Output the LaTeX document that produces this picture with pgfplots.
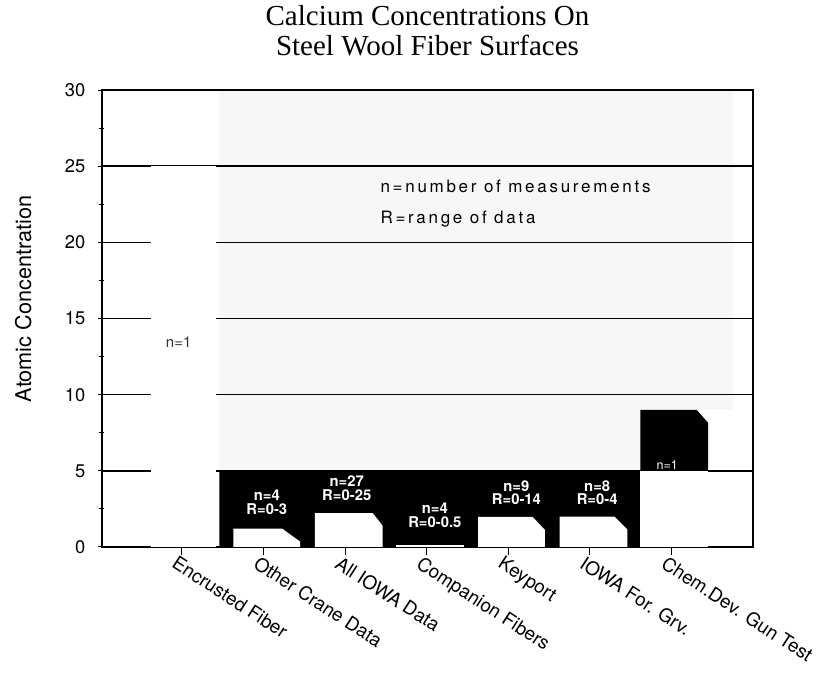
\documentclass[border=0pt]{standalone}
\usepackage{fontspec}
\setmainfont{TeX Gyre Heros}
\setsansfont{TeX Gyre Heros}
\newfontfamily\titlefont{Liberation Serif}
\newfontfamily\spacedfont[LetterSpace=16]{TeX Gyre Heros}
\usepackage{pgfplots}
\pgfplotsset{compat=1.18}

\begin{document}
\begin{tikzpicture}
\begin{axis}[
 name=ax, set layers,
 scale only axis, width=390.6pt, height=274.2pt,
 xmin=-0.98, xmax=7, ymin=0, ymax=30,
 xtick={0,...,6},
 xticklabels={Encrusted Fiber,Other Crane Data,All IOWA Data,Companion Fibers,Keyport,IOWA For. Grv.,Chem.Dev. Gun Test},
 xtick pos=left, ytick pos=left,
 xtick align=outside, ytick align=center,
 major tick length=5pt, minor tick length=3pt,
 ytick={0,5,...,30}, minor ytick={2.5,7.5,...,27.5},
 ymajorgrids, grid style={black,line width=0.9pt},
 axis line style={line width=1pt},
 tick style={black,line width=0.6pt},
 /pgf/number format/assume math mode=true,
 yticklabel style={font=\fontsize{11}{12}\selectfont,xshift=-4pt},
 xticklabel style={font=\fontsize{11.3}{12}\selectfont,rotate=-33,anchor=north west,inner sep=1pt,xshift=-3pt},
 ylabel={Atomic Concentration},
 ylabel style={at={(axis description cs:-0.121,0.543)},anchor=center,font=\fontsize{13}{14}\selectfont},
 title={Calcium Concentrations On\\Steel Wool Fiber Surfaces},
 title style={at={(0.5,1)},anchor=south,yshift=14pt,inner sep=0pt,align=center,font=\titlefont\fontsize{17.4}{18}\selectfont},
]

% faint stipple behind the plot
\begin{pgfonlayer}{axis background}
\fill[gray!6] (axis cs:0.45,5) rectangle (axis cs:5.62,30);
\fill[gray!6] (axis cs:5.62,9) rectangle (axis cs:6.75,30);
\end{pgfonlayer}

% black band 0-5
\addplot[ybar,bar width=1.16,bar shift=0.04,fill=black,draw=none] coordinates {(1,5)(2,5)(3,5)(4,5)(5,5)};
% encrusted fiber
\addplot[ybar,bar width=0.8,bar shift=0.02,fill=white,draw=none] coordinates {(0,25)};
% white bars inside the band
\addplot[fill=white,draw=none] coordinates {(0.63,0)(0.63,1.2)(1.23,1.2)(1.45,0.35)(1.45,0)} -- cycle;
\addplot[fill=white,draw=none] coordinates {(1.63,0)(1.63,2.22)(2.34,2.22)(2.46,1.4)(2.46,0)} -- cycle;
\addplot[fill=white,draw=none] coordinates {(2.63,0)(2.63,0.15)(3.46,0.15)(3.46,0)} -- cycle;
\addplot[fill=white,draw=none] coordinates {(3.63,0)(3.63,1.97)(4.30,1.97)(4.45,1.12)(4.45,0)} -- cycle;
\addplot[fill=white,draw=none] coordinates {(4.63,0)(4.63,2.0)(5.30,2.0)(5.46,1.15)(5.46,0)} -- cycle;
% chem. dev. gun test
\addplot[fill=black,draw=none] coordinates {(5.62,5)(5.62,9)(6.31,9)(6.45,8.15)(6.45,5)} -- cycle;
\addplot[fill=white,draw=none] coordinates {(5.62,0)(5.62,5)(6.45,5)(6.45,0)} -- cycle;

\begin{scope}[every node/.style={white,font=\bfseries\fontsize{8.9}{8}\selectfont,align=center,inner sep=0pt}]
\node at (axis cs:1.04,2.93) {n=4\\R=0-3};
\node at (axis cs:2.02,3.85) {n=27\\R=0-25};
\node at (axis cs:3.10,2.07) {n=4\\R=0-0.5};
\node at (axis cs:4.10,3.55) {n=9\\R=0-14};
\node at (axis cs:5.09,3.55) {n=8\\R=0-4};
\end{scope}
\node[white,font=\fontsize{7.5}{8}\selectfont,inner sep=0pt] at (axis cs:5.95,5.4) {n=1};
\node[black!80,font=\fontsize{9}{10}\selectfont,inner sep=0pt] at (axis cs:-0.04,13.45) {n=1};

\node[anchor=west,inner sep=0pt,font=\spacedfont\fontsize{10.2}{12}\selectfont] at (axis cs:2.43,23.65) {n=number of measurements};
\node[anchor=west,inner sep=0pt,font=\spacedfont\fontsize{10.2}{12}\selectfont] at (axis cs:2.43,21.5) {R=range of data};
\end{axis}
\pgfresetboundingbox
\path ([shift={(-61.2pt,-76.2pt)}]ax.south west) rectangle ([shift={(46.8pt,54pt)}]ax.north east);
\end{tikzpicture}
\end{document}
